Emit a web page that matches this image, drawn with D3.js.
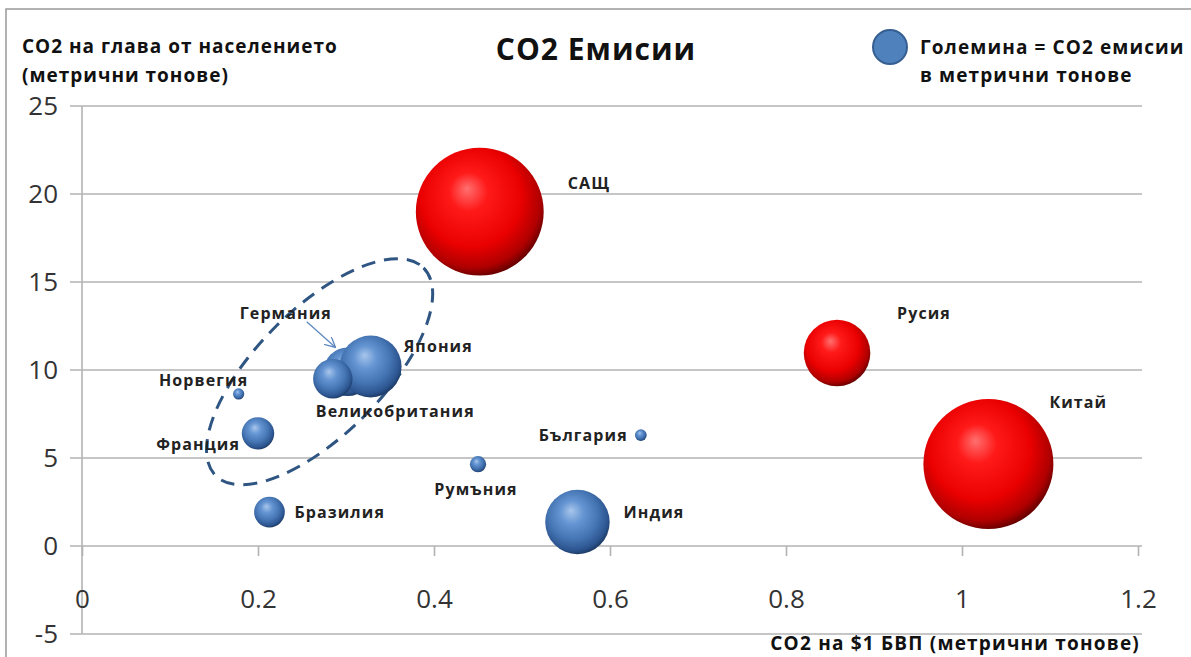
<!DOCTYPE html>
<html>
<head>
<meta charset="utf-8">
<script src="https://cdn.jsdelivr.net/npm/d3@7"></script>
<style>
  body { margin: 0; background: #fff; }
  svg { display: block; font-family: "Open Sans", "DejaVu Sans", sans-serif; }
  .lbl { font-weight: bold; font-size: 16px; letter-spacing: 1.1px; fill: #222; }
  .tick text { font-size: 26px; fill: #333; font-family: "Open Sans", sans-serif; }
  .ttl { font-weight: bold; fill: #111; }
</style>
</head>
<body>
<div id="chart"></div>
<script>
// values
var countries = ["Китай", "САЩ", "Русия", "Индия", "Германия", "Япония", "Великобритания",
                 "Франция", "Бразилия", "Румъния", "България", "Норвегия"];
var co2PerGdp = [1.03, 0.452, 0.858, 0.563, 0.302, 0.328, 0.285, 0.2, 0.213, 0.45, 0.635, 0.178];
var co2PerCapita = [4.66, 19.0, 10.97, 1.36, 9.9, 10.2, 9.5, 6.4, 1.93, 4.65, 6.3, 8.64];
var co2Total = [6100, 5900, 1600, 1500, 850, 1380, 560, 380, 340, 95, 50, 45];
var redOnes = ["Китай", "САЩ", "Русия"];
var xTicks = [0, 0.2, 0.4, 0.6, 0.8, 1, 1.2];
var yTicks = [-5, 0, 5, 10, 15, 20, 25];

var W = 1191, H = 657;

// where each label sits relative to its bubble centre
var labelPos = {
  "САЩ": [88, -28, "start"],
  "Русия": [60, -40, "start"],
  "Китай": [61, -62, "start"],
  "Индия": [46, -10, "start"],
  "България": [-13, 0, "end"],
  "Румъния": [-2, 25, "middle"],
  "Бразилия": [25, 0, "start"],
  "Франция": [-18, 11, "end"],
  "Норвегия": [-35, -14, "middle"],
  "Великобритания": [-17, 33, "start"],
  "Япония": [33, -20, "start"],
  "Германия": [-108, -58, "start"]
};

var svg = d3.select("#chart").append("svg")
    .attr("width", W)
    .attr("height", H);

var defs = svg.append("defs");

function ball(id, stops) {
  var g = defs.append("radialGradient")
      .attr("id", id)
      .attr("cx", "45%").attr("cy", "42%")
      .attr("fx", "40%").attr("fy", "32%")
      .attr("r", "60%");
  stops.forEach(function(s){
    g.append("stop").attr("offset", s[0]).attr("stop-color", s[1]);
  });
}
ball("red", [[0, "#ff7070"], [0.25, "#ff1a1a"], [0.65, "#ea0000"], [0.88, "#b00000"], [1, "#5e0000"]]);
ball("blue", [[0, "#a8c6ec"], [0.3, "#6595d2"], [0.65, "#4474b2"], [0.88, "#2c5590"], [1, "#1a365e"]]);

defs.append("marker")
    .attr("id", "arr")
    .attr("viewBox", "0 0 10 10")
    .attr("refX", 9).attr("refY", 5)
    .attr("markerWidth", 9).attr("markerHeight", 9)
    .attr("orient", "auto")
  .append("path")
    .attr("d", "M0,0 L10,5 L0,10")
    .attr("fill", "none")
    .attr("stroke", "#5b86bd")
    .attr("stroke-width", 1.2);

// frame
svg.append("path")
    .attr("d", "M6," + H + " L6,9 L" + W + ",9")
    .attr("fill", "none")
    .attr("stroke", "#999")
    .attr("stroke-width", 1.5);

var x = d3.scaleLinear().domain([0, 1.2]).range([82, 1138]);
var y = d3.scaleLinear().domain([-5, 25]).range([634, 106]);
var r = d3.scaleSqrt().domain([0, d3.max(co2Total)]).range([0, 65]);

// gridlines
svg.append("g").selectAll("line")
    .data(yTicks)
  .enter().append("line")
    .attr("x1", 70).attr("x2", x(1.2) + 4)
    .attr("y1", function(d){ return y(d); })
    .attr("y2", function(d){ return y(d); })
    .attr("stroke", "#b3b3b3")
    .attr("stroke-width", 1.6);

svg.append("line")
    .attr("x1", x(0)).attr("x2", x(0))
    .attr("y1", y(25)).attr("y2", y(-5))
    .attr("stroke", "#b3b3b3")
    .attr("stroke-width", 1.6);

var yAxis = svg.append("g")
    .attr("transform", "translate(" + x(0) + ",0)")
    .call(d3.axisLeft(y).tickValues(yTicks).tickSize(0).tickPadding(24).tickFormat(function(d){ return String(d); }));
yAxis.select(".domain").remove();

var xAxis = svg.append("g")
    .attr("transform", "translate(0," + y(0) + ")")
    .call(d3.axisBottom(x).tickValues(xTicks).tickSize(10).tickPadding(34).tickFormat(function(d){ return String(d); }));
xAxis.select(".domain").remove();
xAxis.selectAll(".tick line").attr("stroke", "#b3b3b3").attr("stroke-width", 1.6);

// dashed ellipse round the European group
svg.append("ellipse")
    .attr("cx", 0).attr("cy", 0)
    .attr("rx", 147).attr("ry", 63)
    .attr("transform", "translate(" + x(0.27) + "," + y(9.9) + ") rotate(-45)")
    .attr("fill", "none")
    .attr("stroke", "#2f5583")
    .attr("stroke-width", 3)
    .attr("stroke-dasharray", "14,9");

var rows = countries.map(function(c, i){
  return { name: c, gx: co2PerGdp[i], pc: co2PerCapita[i], total: co2Total[i] };
});

svg.append("g").selectAll("circle")
    .data(rows)
  .enter().append("circle")
    .attr("cx", function(d){ return x(d.gx); })
    .attr("cy", function(d){ return y(d.pc); })
    .attr("r", function(d){ return r(d.total); })
    .attr("fill", function(d){ return redOnes.indexOf(d.name) >= 0 ? "url(#red)" : "url(#blue)"; });

svg.append("g").selectAll("text")
    .data(rows)
  .enter().append("text")
    .attr("class", "lbl")
    .attr("x", function(d){ return x(d.gx) + labelPos[d.name][0]; })
    .attr("y", function(d){ return y(d.pc) + labelPos[d.name][1]; })
    .attr("dy", "0.35em")
    .attr("text-anchor", function(d){ return labelPos[d.name][2]; })
    .text(function(d){ return d.name; });

// arrow from the Germany label to its bubble
var de = rows[countries.indexOf("Германия")];
svg.append("line")
    .attr("x1", x(de.gx) - 41).attr("y1", y(de.pc) - 50)
    .attr("x2", x(de.gx) - 13).attr("y2", y(de.pc) - 25)
    .attr("stroke", "#5b86bd")
    .attr("stroke-width", 1.2)
    .attr("marker-end", "url(#arr)");

// titles
svg.append("text")
    .attr("class", "ttl")
    .attr("x", 596).attr("y", 60)
    .attr("text-anchor", "middle")
    .style("font-size", "30px").style("letter-spacing", "1px")
    .text("CO2 Емисии");

var yt = svg.append("text")
    .attr("class", "ttl")
    .style("font-size", "19px").style("letter-spacing", "1px");
yt.append("tspan").attr("x", 22).attr("y", 53).text("CO2 на глава от населението");
yt.append("tspan").attr("x", 22).attr("y", 82).text("(метрични тонове)");

svg.append("text")
    .attr("class", "ttl")
    .attr("x", 1140).attr("y", 650)
    .attr("text-anchor", "end")
    .style("font-size", "19px").style("letter-spacing", "1.2px")
    .text("CO2 на $1 БВП (метрични тонове)");

// legend
svg.append("circle")
    .attr("cx", 890).attr("cy", 47).attr("r", 17)
    .attr("fill", "#4f81bd")
    .attr("stroke", "#365f91")
    .attr("stroke-width", 2);
var lg = svg.append("text")
    .attr("class", "ttl")
    .style("font-size", "19px").style("letter-spacing", "1.1px");
lg.append("tspan").attr("x", 920).attr("y", 54).text("Големина = CO2 емисии");
lg.append("tspan").attr("x", 920).attr("y", 82).text("в метрични тонове");
</script>
</body>
</html>
